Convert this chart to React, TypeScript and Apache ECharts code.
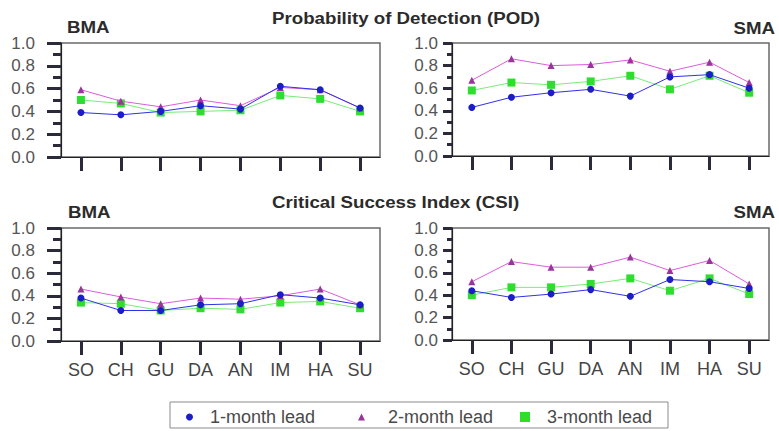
import React, { useEffect, useRef } from "react";
import * as echarts from "echarts";

const categories = ["SO", "CH", "GU", "DA", "AN", "IM", "HA", "SU"];
const seriesNames = ["1-month lead", "2-month lead", "3-month lead"];
const yMin = 0;
const yMax = 1;
const yInterval = 0.2;

const bmaPod1 = [0.39, 0.37, 0.4, 0.45, 0.42, 0.62, 0.59, 0.43];
const bmaPod2 = [0.59, 0.49, 0.44, 0.5, 0.45, 0.61, 0.59, 0.43];
const bmaPod3 = [0.5, 0.47, 0.39, 0.4, 0.41, 0.54, 0.51, 0.4];

const smaPod1 = [0.43, 0.52, 0.56, 0.59, 0.53, 0.7, 0.72, 0.6];
const smaPod2 = [0.67, 0.86, 0.8, 0.81, 0.85, 0.75, 0.83, 0.65];
const smaPod3 = [0.58, 0.65, 0.63, 0.66, 0.71, 0.59, 0.71, 0.56];

const bmaCsi1 = [0.38, 0.27, 0.27, 0.32, 0.33, 0.41, 0.38, 0.32];
const bmaCsi2 = [0.46, 0.39, 0.33, 0.38, 0.37, 0.4, 0.46, 0.32];
const bmaCsi3 = [0.34, 0.33, 0.27, 0.29, 0.28, 0.34, 0.35, 0.29];

const smaCsi1 = [0.44, 0.38, 0.41, 0.45, 0.39, 0.54, 0.52, 0.46];
const smaCsi2 = [0.52, 0.7, 0.65, 0.65, 0.74, 0.62, 0.71, 0.5];
const smaCsi3 = [0.4, 0.47, 0.47, 0.5, 0.55, 0.44, 0.55, 0.41];

const panelData = [
  [bmaPod1, bmaPod2, bmaPod3],
  [smaPod1, smaPod2, smaPod3],
  [bmaCsi1, bmaCsi2, bmaCsi3],
  [smaCsi1, smaCsi2, smaCsi3],
];

const FONT = '"Liberation Sans", Arial, Helvetica, sans-serif';

export default function App() {
  const ref = useRef<HTMLDivElement>(null);

  useEffect(() => {
    if (!ref.current) return;
    const chart = echarts.init(ref.current, null, { renderer: "svg" });

    const grids = [
      { left: 61, top: 43, width: 319, height: 114 },
      { left: 452, top: 43, width: 317, height: 113 },
      { left: 61, top: 228, width: 319, height: 113 },
      { left: 452, top: 228, width: 317, height: 112 },
    ];
    const isLeft = [true, false, true, false];
    const isBottom = [false, false, true, true];

    const styles = [
      { symbol: "circle", size: 7, color: "#1c1cc8", line: "#3030e8" },
      { symbol: "triangle", size: 7, color: "#99359c", line: "#dd5cdd" },
      { symbol: "rect", size: 8, color: "#2ede2e", line: "#78ec78" },
    ];

    const TICK = "#2a2a3a";
    const TW = 3;

    const series: any[] = [];
    panelData.forEach((sets, p) => {
      [2, 1, 0].forEach((k) => {
        series.push({
          type: "line",
          name: seriesNames[k],
          xAxisIndex: p,
          yAxisIndex: p,
          data: sets[k],
          symbol: styles[k].symbol,
          symbolSize: styles[k].size,
          itemStyle: { color: styles[k].color },
          lineStyle: { color: styles[k].line, width: 1 },
          z: 3 - k,
        });
      });
    });

    const titleText = (text: string, x: number, y: number, align: string) => ({
      type: "text",
      x,
      y,
      scaleX: 1.1,
      style: {
        text,
        font: `bold 17px ${FONT}`,
        fill: "#2b2b2b",
        align,
        textAlign: align,
        verticalAlign: "middle",
        textVerticalAlign: "middle",
      },
    });

    const legendBase = (name: string, left: number, size: number, icon: string, pad: number) => ({
      data: [{ name, icon }],
      left,
      top: 408,
      padding: 0,
      itemWidth: size,
      itemHeight: size,
      selectedMode: false,
      textStyle: { fontSize: 18, color: "#4a4a4a", fontFamily: FONT, padding: [0, 0, 0, pad] },
    });

    chart.setOption({
      animation: false,
      backgroundColor: "#ffffff",
      grid: grids.map((g) => ({
        ...g,
        show: true,
        borderColor: "#6a6a6a",
        borderWidth: 1.5,
        backgroundColor: "transparent",
      })),
      xAxis: grids.map((_, i) => ({
        type: "category",
        gridIndex: i,
        data: categories,
        boundaryGap: true,
        axisLine: { show: true, lineStyle: { color: "#222", width: 1.2 } },
        axisTick: { show: true, alignWithLabel: true, length: 14, lineStyle: { color: TICK, width: TW } },
        axisLabel: {
          show: isBottom[i],
          fontSize: 18,
          color: "#444",
          fontFamily: FONT,
          margin: 20,
          interval: 0,
        },
        splitLine: { show: false },
      })),
      yAxis: grids.map((_, i) => ({
        type: "value",
        gridIndex: i,
        min: yMin,
        max: yMax,
        interval: yInterval,
        axisLine: { show: true, lineStyle: { color: "#222", width: 1.2 } },
        axisTick: { show: true, length: isLeft[i] ? 14 : 9, lineStyle: { color: TICK, width: TW } },
        minorTick: { show: true, splitNumber: 2, length: isLeft[i] ? 8 : 5, lineStyle: { color: TICK, width: TW } },
        axisLabel: {
          fontSize: 17,
          color: "#555",
          fontFamily: FONT,
          margin: isLeft[i] ? 26 : 14,
          formatter: (v: number) => v.toFixed(1),
        },
        splitLine: { show: false },
      })),
      legend: [
        legendBase(seriesNames[0], 186, 7, "circle", 12),
        legendBase(seriesNames[1], 358, 7, "triangle", 18),
        legendBase(seriesNames[2], 520, 10, "rect", 12),
      ],
      graphic: [
        {
          type: "rect",
          shape: { x: 170, y: 402, width: 498, height: 26 },
          style: { fill: "none", stroke: "#8a8a8a", lineWidth: 1 },
          z: 0,
        },
        titleText("Probability of Detection (POD)", 272, 18, "left"),
        titleText("Critical Success Index (CSI)", 272, 202, "left"),
        titleText("BMA", 67, 27, "left"),
        titleText("SMA", 775, 28, "right"),
        titleText("BMA", 68, 212, "left"),
        titleText("SMA", 775, 212, "right"),
      ],
      series,
    });

    return () => {
      chart.dispose();
    };
  }, []);

  return (
    <div
      ref={ref}
      style={{ position: "fixed", left: 0, top: 0, width: 779, height: 431, background: "#fff" }}
    />
  );
}
